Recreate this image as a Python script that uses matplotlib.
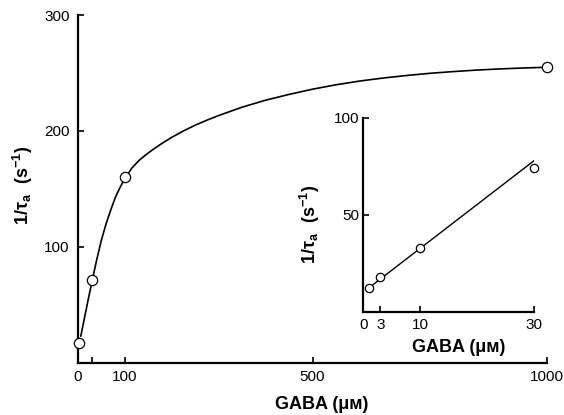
import matplotlib
matplotlib.use("Agg")
import matplotlib.pyplot as plt

# --- Data ---

# main panel: measured points
gaba = [3, 30, 100, 1000]
rate = [17, 71, 160, 255]

# main panel: fitted curve, sampled along the drawn line
curve_gaba = [6, 8, 15, 21, 30, 40, 50, 60, 70, 80, 90, 100, 115, 130, 145,
              160, 180, 200, 225, 250, 275, 300, 350, 400, 450, 500, 550,
              600, 650, 700, 750, 800, 850, 900, 950, 990]
curve_rate = [23, 27, 41, 53, 70.5, 89, 106, 120, 132, 143, 151.5, 159, 168,
              174.5, 179.5, 184, 189.5, 194.5, 200, 205, 209.3, 213.3, 220.5,
              226.5, 231.5, 236, 239.8, 243, 245.6, 247.8, 249.7, 251.2,
              252.5, 253.5, 254.3, 254.8]

main_xticks = [0, 30, 100, 500, 1000]
main_xlabels = ["0", "", "100", "500", "1000"]
main_yticks = [100, 200, 300]

# inset: low concentrations
gaba_low = [1, 3, 10, 30]
rate_low = [12.5, 18, 33, 74]
fit_gaba_low = [1, 30]
fit_rate_low = [12.5, 78]

inset_xticks = [0, 3, 10, 30]
inset_yticks = [50, 100]

# --- Style ---

plt.rcParams["font.family"] = ["Liberation Sans", "DejaVu Sans"]
plt.rcParams["mathtext.fontset"] = "custom"
plt.rcParams["mathtext.rm"] = "Liberation Sans:bold"
plt.rcParams["mathtext.it"] = "Liberation Sans:bold"
plt.rcParams["mathtext.bf"] = "Liberation Sans:bold"

xlabel = "GABA (\u03bc\u1d0d)"
ylabel = r"$1/\tau_{\mathrm{a}}\ \ (\mathrm{s}^{-1})$"
label_kw = dict(fontsize=13, fontweight="bold",
                family=["Liberation Sans", "DejaVu Sans"])
marker_kw = dict(marker="o", linestyle="none", markerfacecolor="white",
                 markeredgecolor="black", markeredgewidth=0.9, clip_on=False,
                 zorder=3)


def style_axes(ax):
    for side in ("top", "right"):
        ax.spines[side].set_visible(False)
    for side in ("left", "bottom"):
        ax.spines[side].set_linewidth(1.6)
    ax.tick_params(direction="in", length=4, width=1.2, labelsize=11)


fig = plt.figure(figsize=(5.64, 4.15), dpi=100)

# --- Main panel ---

ax = fig.add_axes([0.1383, 0.126, 0.8316, 0.8378])
ax.plot(curve_gaba, curve_rate, color="black", lw=1.2, clip_on=False)
ax.plot(gaba, rate, markersize=7.4, **marker_kw)
ax.set_xlim(0, 1000)
ax.set_ylim(0, 300)
ax.set_xticks(main_xticks)
ax.set_xticklabels(main_xlabels)
ax.set_yticks(main_yticks)
style_axes(ax)
ax.tick_params(axis="y", pad=6)
ax.tick_params(axis="x", pad=5)
ax.set_xlabel(xlabel, **label_kw)
ax.xaxis.set_label_coords(0.52, -0.095)
ax.set_ylabel(ylabel, **label_kw)
ax.yaxis.set_label_coords(-0.092, 0.51)

# --- Inset ---

ins = fig.add_axes([0.6442, 0.2482, 0.3027, 0.4675])
ins.plot(fit_gaba_low, fit_rate_low, color="black", lw=1.0)
ins.plot(gaba_low, rate_low, markersize=6, **marker_kw)
ins.set_xlim(0, 30)
ins.set_ylim(0, 100)
ins.set_xticks(inset_xticks)
ins.set_yticks(inset_yticks)
style_axes(ins)
ins.tick_params(axis="y", pad=3)
ins.tick_params(axis="x", pad=4)
ins.set_xlabel(xlabel, **label_kw)
ins.xaxis.set_label_coords(0.56, -0.14)
ins.set_ylabel(ylabel, **label_kw)
ins.yaxis.set_label_coords(-0.24, 0.45)

fig.savefig("out.png", dpi=100)
